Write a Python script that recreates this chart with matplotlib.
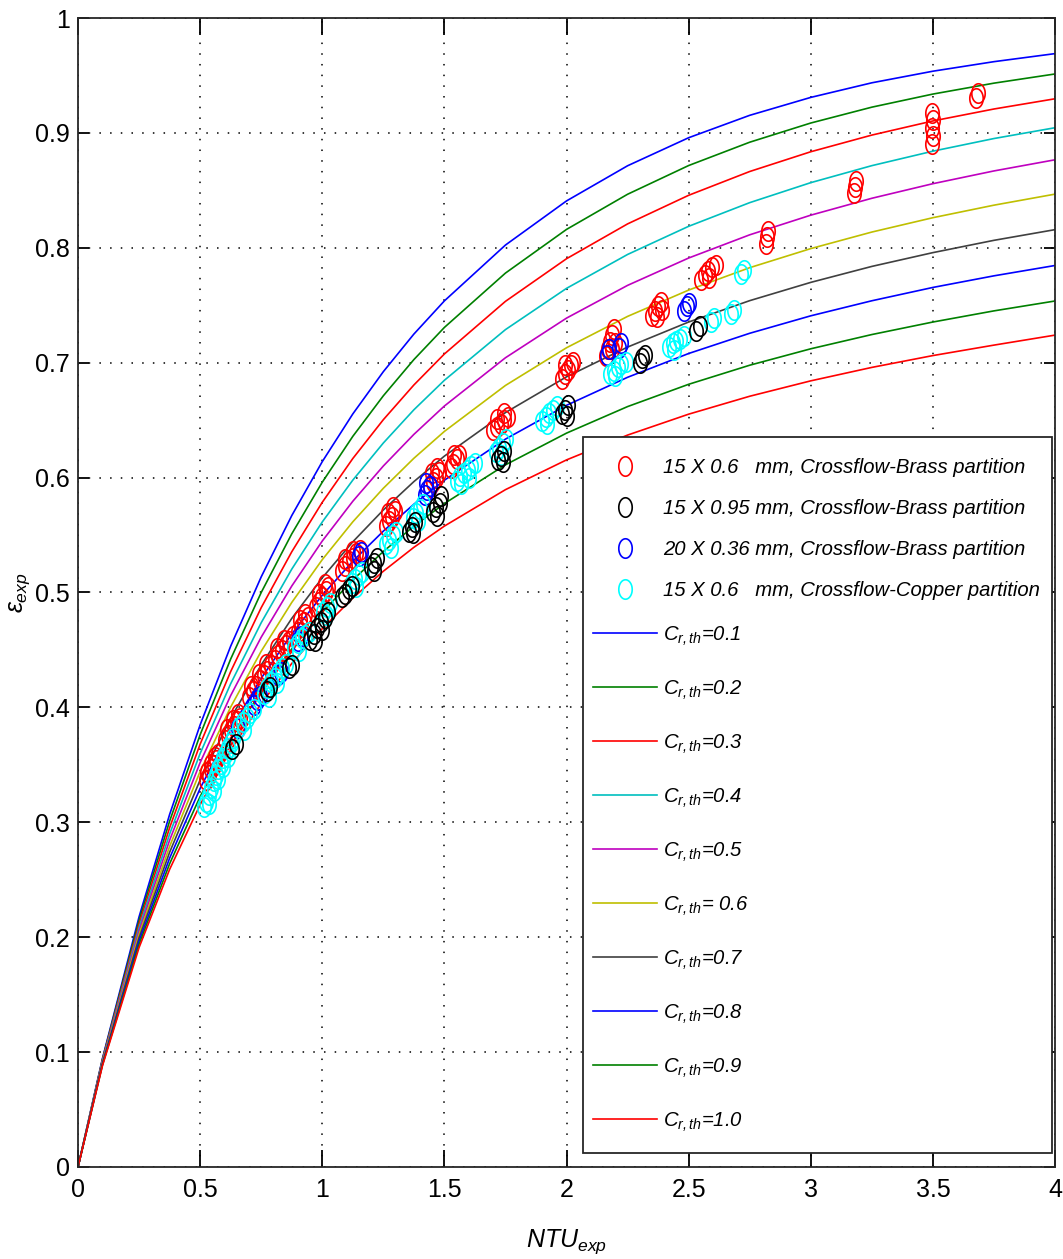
import numpy as np
import matplotlib
matplotlib.use('Agg')
import matplotlib.pyplot as plt
from matplotlib.path import Path
from matplotlib.patches import Rectangle

plt.rcParams['font.family'] = ['Liberation Sans', 'DejaVu Sans']
plt.rcParams['mathtext.fontset'] = 'custom'
plt.rcParams['mathtext.rm'] = 'Liberation Sans:italic'
plt.rcParams['mathtext.it'] = 'Liberation Sans:italic'

# theoretical curves, values
ntu_th = [0, 0.1, 0.25, 0.375, 0.5, 0.625, 0.75, 0.875, 1.0, 1.125, 1.25, 1.375, 1.5,
          1.75, 2.0, 2.25, 2.5, 2.75, 3.0, 3.25, 3.5, 3.75, 4.0]
eps_01 = [0, 0.0944, 0.2178, 0.3068, 0.3848, 0.4533, 0.5136, 0.5669, 0.6139, 0.6554, 0.6922, 0.7249, 0.7538,
          0.8024, 0.8408, 0.8714, 0.8958, 0.9153, 0.9309, 0.9436, 0.9537, 0.9620, 0.9690]
eps_02 = [0, 0.0937, 0.2147, 0.3010, 0.3762, 0.4421, 0.5000, 0.5510, 0.5960, 0.6359, 0.6712, 0.7027, 0.7307,
          0.7780, 0.8160, 0.8466, 0.8716, 0.8919, 0.9086, 0.9224, 0.9338, 0.9433, 0.9513]
eps_03 = [0, 0.0930, 0.2115, 0.2953, 0.3680, 0.4312, 0.4868, 0.5354, 0.5785, 0.6166, 0.6504, 0.6806, 0.7076,
          0.7534, 0.7905, 0.8208, 0.8457, 0.8664, 0.8836, 0.8981, 0.9104, 0.9208, 0.9297]
eps_04 = [0, 0.0922, 0.2084, 0.2898, 0.3599, 0.4206, 0.4737, 0.5203, 0.5614, 0.5978, 0.6301, 0.6590, 0.6847,
          0.7288, 0.7647, 0.7942, 0.8187, 0.8393, 0.8567, 0.8715, 0.8841, 0.8951, 0.9045]
eps_05 = [0, 0.0915, 0.2054, 0.2844, 0.3520, 0.4103, 0.4611, 0.5056, 0.5448, 0.5794, 0.6101, 0.6376, 0.6623,
          0.7043, 0.7388, 0.7673, 0.7911, 0.8113, 0.8284, 0.8431, 0.8558, 0.8669, 0.8766]
eps_06 = [0, 0.0908, 0.2024, 0.2790, 0.3443, 0.4003, 0.4489, 0.4913, 0.5286, 0.5615, 0.5907, 0.6168, 0.6402,
          0.6802, 0.7130, 0.7403, 0.7632, 0.7827, 0.7993, 0.8137, 0.8262, 0.8371, 0.8467]
eps_07 = [0, 0.0901, 0.1995, 0.2739, 0.3368, 0.3905, 0.4370, 0.4774, 0.5128, 0.5441, 0.5718, 0.5965, 0.6187,
          0.6566, 0.6877, 0.7136, 0.7354, 0.7540, 0.7699, 0.7838, 0.7958, 0.8065, 0.8158]
eps_08 = [0, 0.0894, 0.1966, 0.2688, 0.3295, 0.3811, 0.4254, 0.4639, 0.4976, 0.5272, 0.5534, 0.5768, 0.5977,
          0.6335, 0.6629, 0.6873, 0.7080, 0.7256, 0.7408, 0.7539, 0.7655, 0.7756, 0.7846]
eps_09 = [0, 0.0887, 0.1938, 0.2639, 0.3224, 0.3719, 0.4143, 0.4509, 0.4828, 0.5109, 0.5357, 0.5577, 0.5774,
          0.6111, 0.6387, 0.6618, 0.6812, 0.6978, 0.7121, 0.7245, 0.7354, 0.7451, 0.7537]
eps_10 = [0, 0.0881, 0.1910, 0.2590, 0.3154, 0.3629, 0.4034, 0.4382, 0.4685, 0.4951, 0.5185, 0.5393, 0.5578,
          0.5895, 0.6154, 0.6370, 0.6552, 0.6708, 0.6842, 0.6959, 0.7062, 0.7153, 0.7240]

cr_labels = ['=0.1', '=0.2', '=0.3', '=0.4', '=0.5', '= 0.6', '=0.7', '=0.8', '=0.9', '=1.0']
cr_curves = [eps_01, eps_02, eps_03, eps_04, eps_05, eps_06, eps_07, eps_08, eps_09, eps_10]
cr_colors = ['#0000ff', '#008000', '#ff0000', '#00bfbf', '#bf00bf', '#bfbf00', '#404040',
             '#0000ff', '#008000', '#ff0000']

# experimental points (NTU, eps)
red_pts = [(0.525, 0.337), (0.535, 0.341), (0.545, 0.346), (0.555, 0.350), (0.565, 0.354), (0.575, 0.359),
           (0.530, 0.344), (0.545, 0.351), (0.560, 0.357),
           (0.600, 0.372), (0.612, 0.376), (0.625, 0.380), (0.637, 0.384), (0.650, 0.388), (0.662, 0.391),
           (0.610, 0.381), (0.635, 0.389), (0.655, 0.394),
           (0.700, 0.409), (0.715, 0.414), (0.730, 0.419), (0.745, 0.424), (0.760, 0.428), (0.775, 0.432),
           (0.790, 0.437), (0.710, 0.419), (0.740, 0.429), (0.770, 0.438),
           (0.805, 0.441), (0.820, 0.446), (0.835, 0.450), (0.850, 0.454), (0.865, 0.458), (0.880, 0.462),
           (0.815, 0.452), (0.845, 0.459),
           (0.900, 0.466), (0.912, 0.470), (0.925, 0.474), (0.940, 0.479), (0.910, 0.476), (0.930, 0.481),
           (0.975, 0.487), (0.987, 0.492), (1.000, 0.496), (1.015, 0.501), (1.025, 0.505), (0.985, 0.499),
           (1.010, 0.507),
           (1.080, 0.519), (1.095, 0.523), (1.110, 0.527), (1.125, 0.530), (1.140, 0.534), (1.155, 0.537),
           (1.095, 0.529), (1.125, 0.536),
           (1.260, 0.558), (1.272, 0.562), (1.285, 0.566), (1.298, 0.571), (1.270, 0.569), (1.290, 0.574),
           (1.440, 0.592), (1.452, 0.596), (1.465, 0.600), (1.478, 0.605), (1.450, 0.604), (1.470, 0.608),
           (1.525, 0.608), (1.537, 0.612), (1.550, 0.616), (1.560, 0.620), (1.540, 0.620),
           (1.700, 0.641), (1.715, 0.644), (1.730, 0.647), (1.745, 0.650), (1.760, 0.653), (1.715, 0.651),
           (1.745, 0.656),
           (1.980, 0.686), (1.992, 0.690), (2.005, 0.694), (2.018, 0.698), (2.028, 0.701), (1.995, 0.698),
           (2.160, 0.706), (2.168, 0.712), (2.176, 0.718), (2.185, 0.724), (2.195, 0.729), (2.200, 0.717),
           (2.185, 0.712),
           (2.350, 0.741), (2.362, 0.745), (2.375, 0.749), (2.388, 0.753), (2.370, 0.740), (2.392, 0.746),
           (2.550, 0.772), (2.565, 0.776), (2.580, 0.780), (2.595, 0.783), (2.610, 0.785), (2.585, 0.774),
           (2.815, 0.803), (2.820, 0.809), (2.825, 0.815),
           (3.175, 0.848), (3.182, 0.853), (3.186, 0.858),
           (3.497, 0.890), (3.502, 0.897), (3.497, 0.904), (3.502, 0.911), (3.497, 0.917),
           (3.677, 0.930), (3.683, 0.935)]

black_pts = [(0.630, 0.364), (0.645, 0.368), (0.775, 0.414), (0.788, 0.418), (0.862, 0.434), (0.875, 0.437),
             (0.950, 0.459), (0.965, 0.464), (0.980, 0.469), (0.995, 0.474), (1.010, 0.478), (1.025, 0.483),
             (0.970, 0.458), (1.000, 0.467),
             (1.080, 0.496), (1.095, 0.499), (1.110, 0.503), (1.120, 0.506),
             (1.200, 0.522), (1.212, 0.526), (1.225, 0.530), (1.210, 0.519),
             (1.355, 0.553), (1.367, 0.557), (1.380, 0.561), (1.370, 0.552),
             (1.455, 0.570), (1.467, 0.574), (1.480, 0.578), (1.485, 0.584), (1.470, 0.567),
             (1.720, 0.615), (1.732, 0.619), (1.745, 0.623), (1.740, 0.614),
             (1.980, 0.655), (1.992, 0.659), (2.005, 0.663), (2.000, 0.654),
             (2.300, 0.700), (2.310, 0.704), (2.320, 0.707),
             (2.530, 0.728), (2.545, 0.732)]

blue_pts = [(0.655, 0.382), (0.720, 0.402), (0.732, 0.406), (0.745, 0.410), (0.820, 0.428), (0.830, 0.431),
            (0.900, 0.458), (0.912, 0.462), (1.150, 0.532), (1.160, 0.535),
            (1.420, 0.585), (1.430, 0.589), (1.442, 0.593), (1.425, 0.595),
            (2.165, 0.707), (2.172, 0.712), (2.215, 0.713), (2.225, 0.717),
            (2.480, 0.745), (2.492, 0.749), (2.500, 0.752)]

cyan_pts = [(0.515, 0.313), (0.525, 0.318), (0.535, 0.324), (0.545, 0.330), (0.555, 0.336), (0.565, 0.341),
            (0.575, 0.346), (0.585, 0.351), (0.595, 0.356), (0.605, 0.360), (0.615, 0.365), (0.625, 0.369),
            (0.635, 0.373), (0.535, 0.316), (0.555, 0.327), (0.575, 0.338), (0.595, 0.348), (0.615, 0.357),
            (0.660, 0.383), (0.675, 0.387), (0.690, 0.391), (0.705, 0.395), (0.720, 0.399), (0.680, 0.380),
            (0.760, 0.412), (0.775, 0.417), (0.790, 0.422), (0.805, 0.426), (0.820, 0.430), (0.835, 0.434),
            (0.850, 0.438), (0.780, 0.409), (0.815, 0.421),
            (0.885, 0.452), (0.900, 0.456), (0.915, 0.460), (0.930, 0.463), (0.945, 0.466), (0.905, 0.449),
            (1.005, 0.483), (1.018, 0.487), (1.032, 0.491), (1.015, 0.480),
            (1.120, 0.508), (1.135, 0.512), (1.150, 0.515), (1.162, 0.518), (1.140, 0.505),
            (1.260, 0.542), (1.275, 0.546), (1.290, 0.550), (1.300, 0.553), (1.280, 0.539),
            (1.370, 0.565), (1.385, 0.569), (1.400, 0.573), (1.412, 0.577), (1.390, 0.562),
            (1.550, 0.597), (1.565, 0.601), (1.580, 0.604), (1.595, 0.607), (1.610, 0.610), (1.625, 0.613),
            (1.570, 0.594), (1.600, 0.600),
            (1.710, 0.622), (1.725, 0.626), (1.740, 0.630), (1.752, 0.634), (1.730, 0.620),
            (1.900, 0.649), (1.915, 0.653), (1.930, 0.656), (1.945, 0.659), (1.960, 0.662), (1.920, 0.647),
            (2.180, 0.690), (2.195, 0.693), (2.210, 0.696), (2.225, 0.699), (2.245, 0.701), (2.200, 0.688),
            (2.420, 0.714), (2.435, 0.717), (2.450, 0.719), (2.465, 0.721), (2.480, 0.723), (2.440, 0.711),
            (2.590, 0.735), (2.605, 0.739), (2.675, 0.742), (2.685, 0.746), (2.715, 0.777), (2.725, 0.781)]

exp_labels = ['15 X 0.6   mm, Crossflow-Brass partition',
              '15 X 0.95 mm, Crossflow-Brass partition',
              '20 X 0.36 mm, Crossflow-Brass partition',
              '15 X 0.6   mm, Crossflow-Copper partition']

fig = plt.figure(figsize=(10.63, 12.59), dpi=100)
ax = fig.add_axes([0.0734, 0.0731, 0.9191, 0.9126])

line_handles = []
for eps, col, lab in zip(cr_curves, cr_colors, cr_labels):
    h, = ax.plot(ntu_th, eps, color=col, lw=1.2, label=r'$C_{r,th}$' + lab)
    line_handles.append(h)

# the picture is stretched vertically, so the circles look like tall ellipses
t = np.linspace(0, 2 * np.pi, 40)
ell = Path(np.column_stack([0.69 * np.cos(t), np.sin(t)]), closed=True)
mk = dict(marker=ell, ls='none', ms=14, mfc='none', mew=1.2)

def xy(pts):
    return [p[0] for p in pts], [p[1] for p in pts]

h1, = ax.plot(*xy(red_pts), mec='#ff0000', label=exp_labels[0], **mk)
h3, = ax.plot(*xy(blue_pts), mec='#0000ff', label=exp_labels[2], **mk)
h4, = ax.plot(*xy(cyan_pts), mec='#00ffff', label=exp_labels[3], **mk)
h2, = ax.plot(*xy(black_pts), mec='#000000', label=exp_labels[1], **mk)

ax.set_xlim(0, 4)
ax.set_ylim(0, 1)
ax.set_xticks([0, 0.5, 1, 1.5, 2, 2.5, 3, 3.5, 4])
ax.set_xticklabels(['0', '0.5', '1', '1.5', '2', '2.5', '3', '3.5', '4'])
ax.set_yticks(np.arange(0, 1.01, 0.1))
ax.set_yticklabels(['0', '0.1', '0.2', '0.3', '0.4', '0.5', '0.6', '0.7', '0.8', '0.9', '1'])
ax.grid(True, color='black', ls=(0, (1, 6)), lw=1.1)
ax.tick_params(axis='both', direction='in', top=True, right=True, labelsize=18, width=1.3)
ax.tick_params(axis='x', length=12, pad=8)
ax.tick_params(axis='y', length=8, pad=6)
for s in ax.spines.values():
    s.set_linewidth(1.3)
    s.set_color('#262626')

ax.set_xlabel(r'$NTU_{exp}$', fontsize=18, labelpad=18)
ax.set_ylabel(r'$\epsilon_{exp}$', fontsize=18, labelpad=2)

# legend box, then two legends inside it (data entries and curve entries)
frame = Rectangle((0.5169, 0.0122), 0.48, 0.6231, transform=ax.transAxes, fc='white',
                  ec='#262626', lw=1.3, zorder=4)
ax.add_patch(frame)
fs = 14.6
legprops = dict(loc='upper left', frameon=False, numpoints=1, borderpad=0,
                handlelength=3.15, handletextpad=0.3, borderaxespad=0,
                prop={'style': 'italic', 'size': fs})
legA = ax.legend(handles=[h1, h2, h3, h4], bbox_to_anchor=(0.5271, 0.6171),
                 labelspacing=1.08, **legprops)
legA.set_zorder(5)
ax.add_artist(legA)
legB = ax.legend(handles=line_handles, bbox_to_anchor=(0.5271, 0.4723),
                 labelspacing=1.52, **legprops)
legB.set_zorder(5)

fig.savefig('out.png', dpi=100)
